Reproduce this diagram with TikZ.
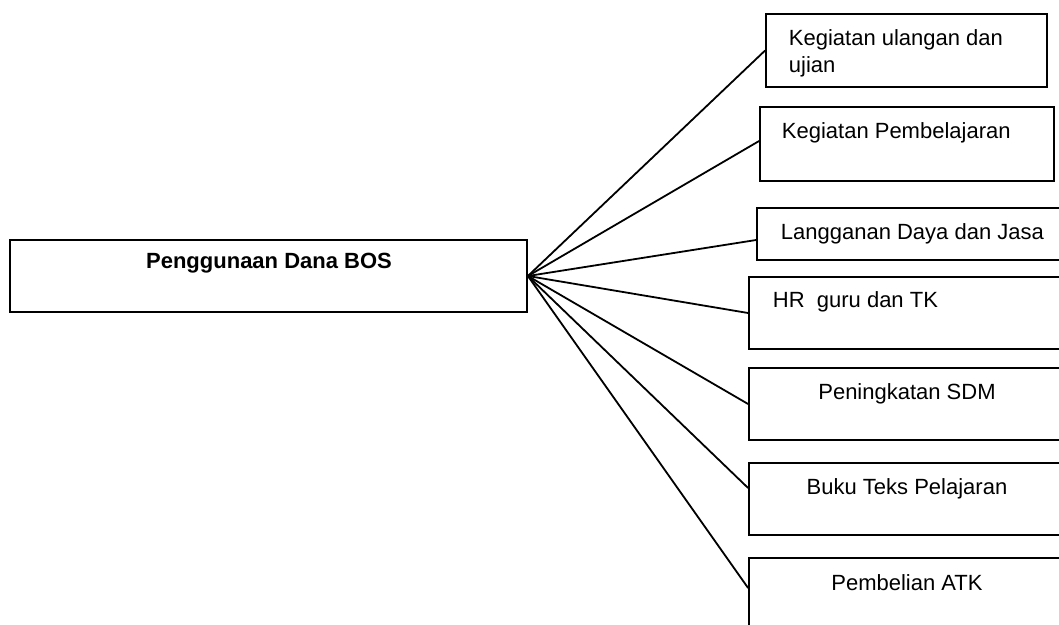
\documentclass[tikz,border=0pt]{standalone}
\usepackage{fontspec}
\setmainfont{Liberation Sans}

\begin{document}
\begin{tikzpicture}[x=1pt, y=-1pt, line width=1.8pt,
	box/.style={draw, rectangle, inner sep=0pt, minimum height=72pt, minimum width=316pt},
	txt/.style={inner sep=0pt, font=\fontsize{22}{27}\selectfont}]

	\path[use as bounding box, clip] (0,0) rectangle (1059,624);

	% main box
	\node[box, minimum width=517pt] (dana) at (268.5,276) {};
	\node[txt, anchor=base, font=\fontsize{22}{27}\selectfont\bfseries] (tdana) at (269,268) {Penggunaan Dana BOS};

	% right boxes
	\node[box, minimum width=281pt, minimum height=73pt] (b1) at (906.5,50.5) {};
	\node[box, minimum width=294pt, minimum height=74pt] (b2) at (907,144) {};
	\node[box, minimum width=308pt, minimum height=52pt] (b3) at (911,234) {};
	\node[box] (b4) at (907,313) {};
	\node[box] (b5) at (907,404) {};
	\node[box] (b6) at (907,499) {};
	\node[box] (b7) at (907,594) {};

	\node[txt, anchor=base west, align=left] (t1) at (788,72) {Kegiatan ulangan dan\\ujian};
	\node[txt, anchor=base west] (t2) at (781,138) {Kegiatan Pembelajaran};
	\node[txt, anchor=base west] (t3) at (780,239) {Langganan Daya dan Jasa};
	\node[txt, anchor=base west] (t4) at (772,307) {HR\ \ guru dan TK};
	\node[txt, anchor=base] (t5) at (907,399) {Peningkatan SDM};
	\node[txt, anchor=base] (t6) at (907,494) {Buku Teks Pelajaran};
	\node[txt, anchor=base] (t7) at (907,590) {Pembelian ATK};

	% connectors
	\draw (dana.east) -- (b1.west);
	\draw (dana.east) -- ([yshift=3pt]b2.west);
	\draw (dana.east) -- ([yshift=-6pt]b3.west);
	\draw (dana.east) -- (b4.west);
	\draw (dana.east) -- (b5.west);
	\draw (dana.east) -- ([yshift=11pt]b6.west);
	\draw (dana.east) -- ([yshift=6pt]b7.west);

\end{tikzpicture}
\end{document}
